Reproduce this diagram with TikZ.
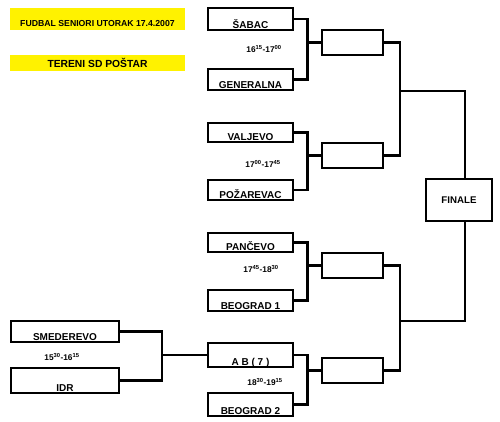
\documentclass[tikz,border=0pt]{standalone}
\usepackage{fontspec}
\setmainfont{Liberation Sans}
\begin{document}
\begin{tikzpicture}[x=1pt,y=-1pt,
  box/.style={draw, line width=1.3pt, inner sep=0pt},
  team/.style={box, minimum width=85pt},
  tname/.style={anchor=base, inner sep=0pt, font=\fontsize{10}{12}\bfseries},
  rbox/.style={box, minimum width=61pt, minimum height=25pt},
  banner/.style={fill=yellow, draw=none, minimum width=175pt, inner sep=0pt},
  tlabel/.style={inner sep=0pt, font=\fontsize{8.3}{10}\bfseries},
  conn/.style={line width=2.1pt}]
\useasboundingbox (0,0) rectangle (500,422);
% banners
\node[banner, minimum height=22pt] (b1) at (97.5,19) {};
\node[anchor=base, inner sep=0pt, font=\fontsize{8.7}{10}\bfseries] (b1t) at ([yshift=3.5pt]b1.south) {FUDBAL SENIORI UTORAK 17.4.2007};
\node[banner, minimum height=16pt] (b2) at (97.5,63) {};
\node[anchor=base, inner sep=0pt, font=\fontsize{10.3}{12}\bfseries] (b2t) at ([yshift=4pt]b2.south) {TERENI SD POŠTAR};
% first round teams
\node[team, minimum height=22pt] (sabac) at (250.5,19) {};
\node[tname] (sabact) at ([yshift=2.5pt]sabac.south) {ŠABAC};
\node[team, minimum height=21pt] (gen) at (250.5,79.5) {};
\node[tname] (gent) at ([yshift=2.5pt]gen.south) {GENERALNA};
\node[team, minimum height=19pt] (valj) at (250.5,132.5) {};
\node[tname] (valjt) at ([yshift=2.5pt]valj.south) {VALJEVO};
\node[team, minimum height=20pt] (poz) at (250.5,190) {};
\node[tname] (pozt) at ([yshift=2.5pt]poz.south) {POŽAREVAC};
\node[team, minimum height=19pt] (panc) at (250.5,242.5) {};
\node[tname] (panct) at ([yshift=2.5pt]panc.south) {PANČEVO};
\node[team, minimum height=21pt] (bg1) at (250.5,300.5) {};
\node[tname] (bg1t) at ([yshift=2.5pt]bg1.south) {BEOGRAD 1};
\node[team, minimum height=24pt] (ab) at (250.5,355) {};
\node[tname] (abt) at ([yshift=2.5pt]ab.south) {A B ( 7 )};
\node[team, minimum height=23pt] (bg2) at (250.5,404.5) {};
\node[tname] (bg2t) at ([yshift=2.5pt]bg2.south) {BEOGRAD 2};
\node[box, minimum width=108pt, minimum height=21pt] (smed) at (65,331.5) {};
\node[tname] (smedt) at ([yshift=2.5pt]smed.south) {SMEDEREVO};
\node[box, minimum width=108pt, minimum height=25pt] (idr) at (65,380.5) {};
\node[tname] (idrt) at ([yshift=2.5pt]idr.south) {IDR};
% time labels
\node[tlabel] (t1) at (264,49) {16\textsuperscript{15}-17\textsuperscript{00}};
\node[tlabel] (t2) at (263,164) {17\textsuperscript{00}-17\textsuperscript{45}};
\node[tlabel] (t3) at (261,269) {17\textsuperscript{45}-18\textsuperscript{30}};
\node[tlabel] (t4) at (265,382) {18\textsuperscript{30}-19\textsuperscript{15}};
\node[tlabel] (t0) at (62,357) {15\textsuperscript{30}-16\textsuperscript{15}};
% second round
\node[rbox] (r1) at (352.5,42.5) {};
\node[rbox] (r2) at (352.5,155.5) {};
\node[rbox] (r3) at (352.5,265.5) {};
\node[rbox] (r4) at (352.5,370.5) {};
% final
\node[box, minimum width=66pt, minimum height=42pt, font=\fontsize{9.7}{11}\bfseries] (fin) at (459,200) {FINALE};
% junctions
\coordinate (j0) at (162,355);
\coordinate (j1) at (307.5,42.5);
\coordinate (j2) at (307.5,155.5);
\coordinate (j3) at (307.5,265.5);
\coordinate (j4) at (307.5,370.5);
\coordinate (k1) at (400,91);
\coordinate (k2) at (400,321);
% connectors
\draw[conn] (smed.east) -| (j0) |- (idr.east);
\draw[conn] (j0) -- (ab.west);
\draw[conn] (sabac.east) -| (j1) |- (gen.east);
\draw[conn] (j1) -- (r1.west);
\draw[conn] (valj.east) -| (j2) |- (poz.east);
\draw[conn] (j2) -- (r2.west);
\draw[conn] (panc.east) -| (j3) |- (bg1.east);
\draw[conn] (j3) -- (r3.west);
\draw[conn] (ab.east) -| (j4) |- (bg2.east);
\draw[conn] (j4) -- (r4.west);
\draw[conn] (r1.east) -| (k1) |- (r2.east);
\draw[conn] (r3.east) -| (k2) |- (r4.east);
\draw[conn] (k1) -| ([xshift=6pt]fin.north);
\draw[conn] (k2) -| ([xshift=6pt]fin.south);
\end{tikzpicture}
\end{document}
